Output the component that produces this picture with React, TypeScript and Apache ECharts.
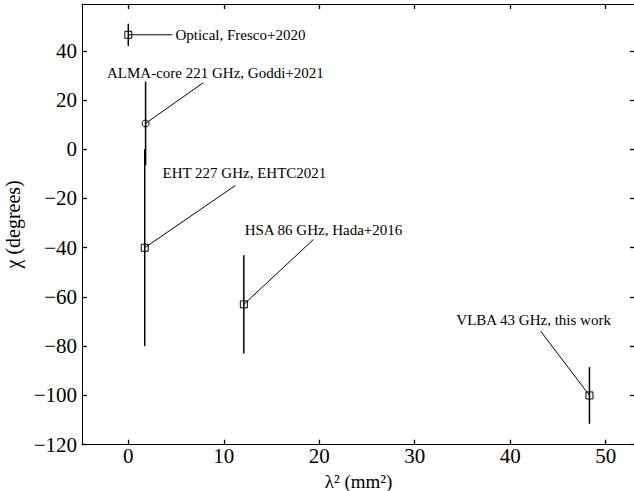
import React, { useEffect, useRef } from "react";
import * as echarts from "echarts";

// Measurements: lambda^2 (mm^2), chi (deg), chi error (deg), marker
const names = [
  "Optical, Fresco+2020",
  "ALMA-core 221 GHz, Goddi+2021",
  "EHT 227 GHz, EHTC2021",
  "HSA 86 GHz, Hada+2016",
  "VLBA 43 GHz, this work",
];
const lambda2 = [0, 1.81, 1.72, 12.1, 48.3];
const chi = [46.5, 10.5, -40, -63, -100];
const chiErr = [4.5, 17, 40, 20, 11.5];
const markers = ["square", "circle", "square", "square", "square"];

// Annotation placement in data units: text anchor and connector end
const labelX = [4.93, 9.12, 12.16, 20.44, 42.45];
const labelY = [46.5, 30.9, -9.45, -32.6, -69.5];
const labelAlign = ["left", "center", "center", "center", "center"];
const connX = [4.61, 7.86, 11.22, 19.39, 43.19];
const connY = [46.5, 27.05, -14.7, -36.65, -73.9];

const xTicks = [0, 10, 20, 30, 40, 50];
const yTicks = [-120, -100, -80, -60, -40, -20, 0, 20, 40];

const FONT = "'Liberation Serif', 'DejaVu Serif', serif";

export default function App() {
  const ref = useRef<HTMLDivElement>(null);
  useEffect(() => {
    const chart = echarts.init(ref.current!, null, { renderer: "svg" });
    const fmt = (v: number) => (v < 0 ? "\u2212" + Math.abs(v) : String(v));
    const axisLine = { show: true, onZero: false, lineStyle: { color: "#000", width: 1 } };
    const tick = (vals: number[]) => ({
      show: true,
      inside: true,
      length: 5,
      customValues: vals,
      lineStyle: { color: "#000", width: 1.3 },
    });
    const xr = { min: -4.85, max: 53.07 };
    const yr = { min: -120, max: 59 };
    const errData = lambda2.map((x, i) => [x, chi[i], chiErr[i], markers[i] === "circle" ? 1 : 0]);
    const annData = lambda2.map((x, i) => [x, chi[i], connX[i], connY[i], labelX[i], labelY[i], i]);
    chart.setOption({
      animation: false,
      textStyle: { fontFamily: FONT },
      grid: { left: 82, right: -1, top: 4, bottom: 46.3, containLabel: false, outerBoundsMode: "none" },
      xAxis: [
        {
          type: "value",
          ...xr,
          position: "bottom",
          axisLine,
          splitLine: { show: false },
          name: "\u03bb\u00b2 (mm\u00b2)",
          nameLocation: "middle",
          nameGap: 17,
          nameTextStyle: { fontFamily: FONT, fontSize: 19, color: "#000", lineHeight: 20 },
          axisTick: tick(xTicks),
          axisLabel: { customValues: xTicks, formatter: fmt, fontFamily: FONT, fontSize: 21, color: "#000", margin: 1 },
        },
        {
          type: "value",
          ...xr,
          position: "top",
          axisLine,
          splitLine: { show: false },
          axisTick: tick(xTicks),
          axisLabel: { show: false },
        },
      ],
      yAxis: [
        {
          type: "value",
          ...yr,
          position: "left",
          axisLine,
          splitLine: { show: false },
          name: "\u03c7 (degrees)",
          nameLocation: "middle",
          nameGap: 52,
          nameTextStyle: { fontFamily: FONT, fontSize: 20, color: "#000" },
          axisTick: tick(yTicks),
          axisLabel: { customValues: yTicks, formatter: fmt, fontFamily: FONT, fontSize: 21, color: "#000", margin: 5 },
        },
        {
          type: "value",
          ...yr,
          position: "right",
          axisLine,
          splitLine: { show: false },
          axisTick: tick(yTicks),
          axisLabel: { show: false },
        },
      ],
      series: [
        {
          type: "custom",
          xAxisIndex: 0,
          yAxisIndex: 0,
          data: annData,
          clip: false,
          renderItem: (params: any, api: any) => {
            const p = api.coord([api.value(0), api.value(1)]);
            const c = api.coord([api.value(2), api.value(3)]);
            const t = api.coord([api.value(4), api.value(5)]);
            const i = api.value(6);
            return {
              type: "group",
              children: [
                {
                  type: "line",
                  shape: { x1: p[0], y1: p[1], x2: c[0], y2: c[1] },
                  style: { stroke: "#000", lineWidth: 1 },
                },
                {
                  type: "text",
                  x: t[0],
                  y: t[1],
                  style: {
                    text: names[i],
                    fontFamily: FONT,
                    fontSize: 15,
                    fill: "#000",
                    align: labelAlign[i],
                    verticalAlign: "middle",
                  },
                },
              ],
            };
          },
        },
        {
          type: "custom",
          xAxisIndex: 0,
          yAxisIndex: 0,
          data: errData,
          renderItem: (params: any, api: any) => {
            const x = api.value(0);
            const y = api.value(1);
            const e = api.value(2);
            const p = api.coord([x, y]);
            const top = api.coord([x, y + e]);
            const bot = api.coord([x, y - e]);
            const marker =
              api.value(3) === 1
                ? { type: "circle", shape: { cx: p[0], cy: p[1], r: 3.5 }, style: { fill: "none", stroke: "#000", lineWidth: 1 } }
                : { type: "rect", shape: { x: p[0] - 3.5, y: p[1] - 3.5, width: 7, height: 7 }, style: { fill: "none", stroke: "#000", lineWidth: 1 } };
            return {
              type: "group",
              children: [
                {
                  type: "line",
                  shape: { x1: top[0], y1: top[1], x2: bot[0], y2: bot[1] },
                  style: { stroke: "#000", lineWidth: 1.5 },
                },
                marker,
              ],
            };
          },
        },
      ],
    });
    return () => chart.dispose();
  }, []);
  return <div ref={ref} style={{ width: 634, height: 491, position: "absolute", left: 0, top: 0 }} />;
}
